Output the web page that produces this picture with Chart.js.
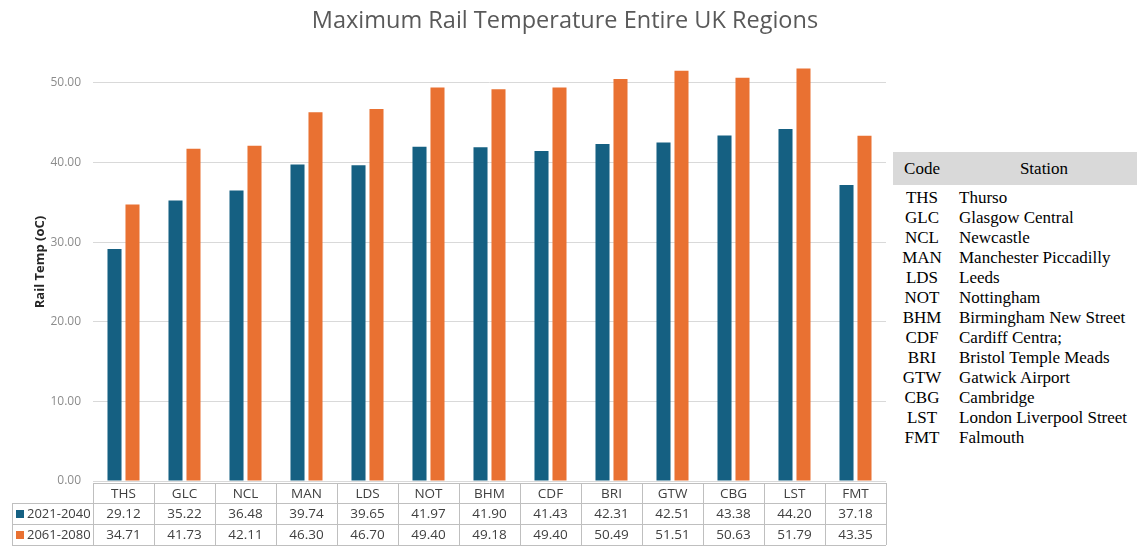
<!DOCTYPE html>
<html>
<head>
<meta charset="utf-8">
<script src="https://cdn.jsdelivr.net/npm/chart.js@4.4.1/dist/chart.umd.min.js"></script>
<style>
  body { margin: 0; background: #fff; width: 1137px; height: 548px; overflow: hidden; position: relative; }
  #wrap { position: absolute; left: 0; top: 0; width: 890px; height: 548px; }
  #titulo { position: absolute; left: 0; width: 1130px; top: 3px; text-align: center;
            font-family: "Open Sans", sans-serif; font-size: 23.5px; color: #595959; }
  #stations { position: absolute; left: 893px; top: 152px; width: 244px; border-collapse: collapse;
              font-family: "Liberation Serif", "Times New Roman", serif; font-size: 17px; color: #000; }
  #stations th { background: #d9d9d9; font-weight: normal; height: 33px; padding: 0; border-bottom: 3px solid #fff; }
  #stations td { height: 20px; padding: 0; line-height: 20px; white-space: nowrap; }
  #stations td.code { text-align: center; width: 58px; }
  #stations td.name { padding-left: 8px; }
</style>
</head>
<body>
<div id="wrap"><canvas id="grafico" width="890" height="548"></canvas></div>
<div id="titulo">Maximum Rail Temperature Entire UK Regions</div>
<table id="stations"><thead><tr><th style="width:58px">Code</th><th>Station</th></tr></thead><tbody id="corpo"></tbody></table>
<script>
// dados
const codigos = ['THS', 'GLC', 'NCL', 'MAN', 'LDS', 'NOT', 'BHM', 'CDF', 'BRI', 'GTW', 'CBG', 'LST', 'FMT'];
const estacoes = ['Thurso', 'Glasgow Central', 'Newcastle', 'Manchester Piccadilly', 'Leeds', 'Nottingham',
    'Birmingham New Street', 'Cardiff Centra;', 'Bristol Temple Meads', 'Gatwick Airport', 'Cambridge',
    'London Liverpool Street', 'Falmouth'];
const series = ['2021-2040', '2061-2080'];
const valores2021 = [29.12, 35.22, 36.48, 39.74, 39.65, 41.97, 41.90, 41.43, 42.31, 42.51, 43.38, 44.20, 37.18];
const valores2061 = [34.71, 41.73, 42.11, 46.30, 46.70, 49.40, 49.18, 49.40, 50.49, 51.51, 50.63, 51.79, 43.35];
const cores = ['#156082', '#E97132'];

// tabela lateral
let corpo = document.getElementById('corpo');
for (let i = 0; i < codigos.length; i++) {
    corpo.innerHTML += `<tr><td class="code">${codigos[i]}</td><td class="name">${estacoes[i]}</td></tr>`;
}

// tabela de dados abaixo do eixo
const tabelaDados = {
    id: 'tabelaDados',
    afterDraw(chart) {
        const ctx = chart.ctx;
        const area = chart.chartArea;
        const n = codigos.length;
        const colW = (area.right - area.left) / n;
        const y0 = area.bottom + 2;
        const rows = [y0, y0 + 20, y0 + 41, y0 + 62];
        const legX = 12;

        ctx.save();
        ctx.strokeStyle = '#bfbfbf';
        ctx.lineWidth = 1;
        ctx.beginPath();
        // linhas horizontais
        ctx.moveTo(area.left, rows[0] + 0.5); ctx.lineTo(area.right, rows[0] + 0.5);
        for (let r = 1; r < rows.length; r++) {
            ctx.moveTo(legX, rows[r] + 0.5); ctx.lineTo(area.right, rows[r] + 0.5);
        }
        // linhas verticais
        ctx.moveTo(legX + 0.5, rows[1]); ctx.lineTo(legX + 0.5, rows[3]);
        for (let i = 0; i <= n; i++) {
            let x = Math.round(area.left + i * colW) + 0.5;
            ctx.moveTo(x, rows[0]); ctx.lineTo(x, rows[3]);
        }
        ctx.stroke();

        ctx.font = '13.5px "Open Sans", sans-serif';
        ctx.fillStyle = '#404040';
        ctx.textAlign = 'center';
        ctx.textBaseline = 'middle';
        const xs = chart.scales.x;
        for (let i = 0; i < n; i++) {
            let cx = xs.getPixelForValue(i);
            ctx.fillText(codigos[i], cx, (rows[0] + rows[1]) / 2 + 1);
            ctx.fillText(valores2021[i].toFixed(2), cx, (rows[1] + rows[2]) / 2 + 1);
            ctx.fillText(valores2061[i].toFixed(2), cx, (rows[2] + rows[3]) / 2 + 1);
        }
        // legenda
        ctx.textAlign = 'left';
        ctx.font = '13px "Open Sans", sans-serif';
        for (let s = 0; s < 2; s++) {
            let cy = (rows[s + 1] + rows[s + 2]) / 2;
            ctx.fillStyle = cores[s];
            ctx.fillRect(16, cy - 3.5, 8, 8);
            ctx.fillStyle = '#404040';
            ctx.fillText(series[s], 27, cy + 1);
        }
        ctx.restore();
    }
};

const ctx = document.getElementById('grafico').getContext('2d');
let grafico = new Chart(ctx, {
    type: 'bar',
    data: {
        labels: codigos,
        datasets: [
            { label: series[0], data: valores2021, backgroundColor: cores[0] },
            { label: series[1], data: valores2061, backgroundColor: cores[1] }
        ]
    },
    options: {
        responsive: false,
        animation: false,
        layout: { padding: { left: 28, right: 4, top: 43, bottom: 67 } },
        datasets: { bar: { categoryPercentage: 0.59, barPercentage: 0.78 } },
        plugins: {
            legend: { display: false },
            tooltip: { enabled: false }
        },
        scales: {
            x: { display: false },
            y: {
                min: 0,
                max: 55,
                ticks: {
                    stepSize: 10,
                    color: '#8c8c8c',
                    padding: 12,
                    font: { family: '"Open Sans", sans-serif', size: 12 },
                    callback: v => v.toFixed(2)
                },
                afterBuildTicks: s => { s.ticks = s.ticks.filter(t => t.value % 10 === 0); },
                afterFit: s => { s.width = 65; },
                grid: { color: '#d9d9d9', drawTicks: false },
                border: { display: false },
                title: {
                    display: true,
                    text: 'Rail Temp (oC)',
                    color: '#262626',
                    font: { family: '"Open Sans", sans-serif', size: 13, weight: 'bold' },
                    padding: { top: 4, bottom: 0 }
                }
            }
        }
    },
    plugins: [tabelaDados]
});
</script>
</body>
</html>
